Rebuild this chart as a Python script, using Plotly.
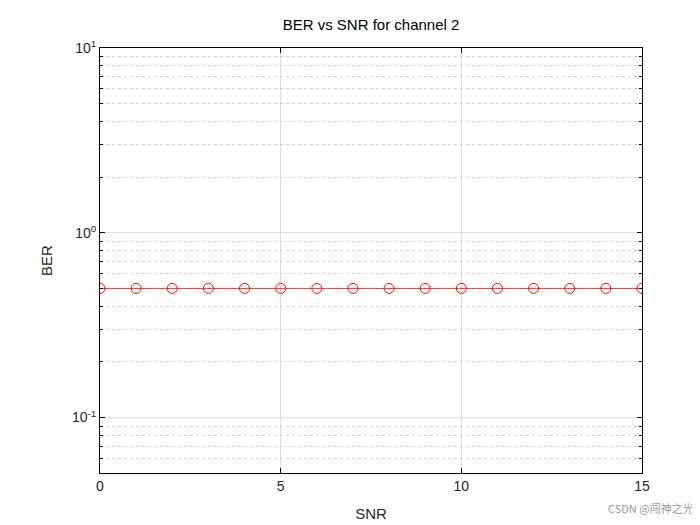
import plotly.graph_objects as go

snr = list(range(0, 16))
ber = [0.5]*16
ytick_vals = [0.1, 1, 10]
ytick_text = ["10<sup>-1</sup>", "10<sup>0</sup>", "10<sup>1</sup>"]
yminor_vals = [0.05, 0.06, 0.07, 0.08, 0.09, 0.2, 0.3, 0.4, 0.5, 0.6, 0.7, 0.8, 0.9,
               2, 3, 4, 5, 6, 7, 8, 9]
xtick_vals = [0, 5, 10, 15]

fig = go.Figure(go.Scatter(x=snr, y=ber, mode="lines+markers",
    line=dict(color="red", width=0.8),
    marker=dict(symbol="circle-open", size=10, color="red", line=dict(width=1))))

ax = dict(showline=True, linecolor="black", linewidth=1, mirror="allticks",
          ticks="inside", ticklen=5, tickcolor="black", automargin=False,
          gridcolor="#dcdcdc", zeroline=False, tickfont=dict(size=14, color="#262626"))
fig.update_xaxes(range=[0, 15], tickvals=xtick_vals, title=dict(text="SNR", font=dict(size=15, color="#262626")), **ax)
fig.update_yaxes(type="log", range=[-1.3, 1], tickvals=ytick_vals, ticktext=ytick_text,
                 title=dict(text="BER", font=dict(size=15, color="#262626")),
                 minor=dict(showgrid=True, tickvals=yminor_vals, gridcolor="#d0d0d0",
                            griddash="dot", ticks="inside", ticklen=3, tickcolor="black"), **ax)
fig.update_layout(width=700, height=525, margin=dict(l=92, r=66, t=40, b=60),
    plot_bgcolor="white", paper_bgcolor="white", showlegend=False,
    font=dict(family="Liberation Sans, Arial", color="#262626"),
    title=dict(text="BER vs SNR for channel 2", x=0.5, xanchor="center", xref="paper",
               y=0.958, yref="container", yanchor="bottom", automargin=False,
               font=dict(size=15, color="black")))
fig.add_annotation(text="CSDN @闯神之光", xref="paper", yref="paper", x=1.1, y=-0.105,
    showarrow=False, xanchor="right", font=dict(size=11, color="#999999", family="Noto Sans CJK SC"))
fig.write_html("out.html")
